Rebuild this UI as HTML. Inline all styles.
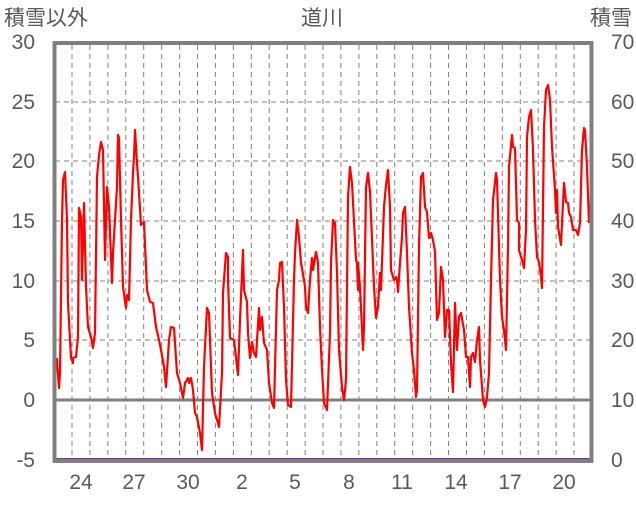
<!DOCTYPE html>
<html><head><meta charset="utf-8"><style>
body{margin:0;background:#fff;}
svg text{font-family:"Liberation Sans","Noto Sans CJK JP",sans-serif;fill:#595959;}
</style></head><body>
<svg width="636" height="501" viewBox="0 0 636 501" xmlns="http://www.w3.org/2000/svg">
<rect width="636" height="501" fill="#fff"/>
<g stroke="#7f7f7f" stroke-width="1" stroke-dasharray="5,4">
<line x1="55" y1="102" x2="591" y2="102"/>
<line x1="55" y1="161" x2="591" y2="161"/>
<line x1="55" y1="221" x2="591" y2="221"/>
<line x1="55" y1="281" x2="591" y2="281"/>
<line x1="55" y1="340" x2="591" y2="340"/>
</g>
<g id="v" stroke="#7f7f7f" stroke-width="1" stroke-dasharray="5,4"></g>
<line x1="55" y1="400" x2="591" y2="400" stroke="#7f7f7f" stroke-width="3"/>
<polyline fill="none" stroke="#ff0000" stroke-width="2.2" stroke-linejoin="round" points="57,358 57.5,368 59,388 60,373 62,220 63,180 65,172 67,220 68,303 71,358 73,363 73,358 76,357 78,337 79,208 81,217 82,280 84,203 86,287 88,327 91,337 93,348 95,333 97,177 99,155 101,142 103,150 105,260 107,187 109,207 112,283 113,253 117,187 118,135 119,138 121,220 123,287 126,308 127,295 129,300 131,220 133,173 134,157 135,130 137,163 138,177 141,225 144,222 147,290 150,302 153,303 156,327 159,340 161,350 164,367 166,387 169,340 171,327 174,328 177,373 180,383 183,398 185,383 188,378 189,383 191,378 193,390 195,413 197,417 200,433 202,450 204,367 207,308 209,313 212,393 215,413 219,427 222,373 223,293 226,253 228,257 228,280 230,338 234,340 238,375 240,320 243,250 244,290 247,302 248,333 250,358 252,342 254,353 256,357 259,308 260,330 262,317 264,343 267,350 269,383 272,403 274,408 277,290 279,280 280,263 282,262 284,307 286,380 288,405 291,407 294,280 295,253 297,220 299,237 301,263 304,280 305,287 306,307 308,313 310,280 312,258 313,270 316,252 318,263 320,327 322,370 324,403 327,410 330,333 331,263 333,220 335,223 337,273 339,350 342,387 344,400 346,380 348,197 350,167 352,183 356,260 357,263 358,290 358,263 360,287 363,350 364,327 366,187 368,173 370,192 374,287 376,318 378,307 380,273 381,290 384,207 386,185 388,170 390,207 391,270 394,280 396,277 397,280 398,292 400,263 402,237 403,213 405,207 407,253 409,307 412,353 414,370 416,397 417,390 419,247 421,177 423,173 425,207 427,212 429,238 431,233 433,240 435,252 437,320 439,313 441,267 443,280 445,337 447,310 449,310 451,363 453,392 455,303 457,350 459,317 461,313 464,330 466,357 468,357 470,387 471,357 473,353 475,362 477,340 479,327 480,360 483,400 485,407 487,397 489,373 491,280 493,200 496,173 497,180 500,280 502,317 504,330 506,350 508,247 509,167 512,135 513,147 515,148 517,220 519,223 519,250 522,260 524,268 526,230 527,137 529,117 531,110 533,150 535,220 537,257 539,262 541,277 542,288 544,127 546,90 548,85 550,100 552,147 555,190 556,213 557,190 558,227 561,245 563,203 564,183 566,202 568,203 569,213 571,217 573,230 576,230 578,235 580,223 582,150 584,128 585,130 587,167 589,223"/>
<line x1="55" y1="459" x2="591" y2="459" stroke="#7030a0" stroke-width="2"/>
<rect x="54.5" y="43" width="537" height="418" fill="none" stroke="#7f7f7f" stroke-width="4"/>
<g font-size="21" text-anchor="end">
<text x="35" y="49">30</text><text x="35" y="109">25</text><text x="35" y="168">20</text><text x="35" y="228">15</text><text x="35" y="288">10</text><text x="35" y="347">5</text><text x="35" y="407">0</text><text x="35" y="467">-5</text>
</g>
<g font-size="21" text-anchor="start">
<text x="611" y="49">70</text><text x="611" y="109">60</text><text x="611" y="168">50</text><text x="611" y="228">40</text><text x="611" y="288">30</text><text x="611" y="347">20</text><text x="611" y="407">10</text><text x="611" y="467">0</text>
</g>
<g font-size="21" text-anchor="middle">
<text x="81" y="489">24</text><text x="134" y="489">27</text><text x="188" y="489">30</text><text x="242" y="489">2</text><text x="295" y="489">5</text><text x="349" y="489">8</text><text x="402" y="489">11</text><text x="456" y="489">14</text><text x="510" y="489">17</text><text x="564" y="489">20</text>
</g>
<text x="4" y="25" font-size="21">積雪以外</text>
<text x="322" y="25" font-size="21" text-anchor="middle">道川</text>
<text x="632" y="25" font-size="21" text-anchor="end">積雪</text>
</svg>
<script>
var g=document.getElementById('v');
for(var k=0;k<=28;k++){var x=(72+k*17.93).toFixed(1);var l=document.createElementNS('http://www.w3.org/2000/svg','line');l.setAttribute('x1',x);l.setAttribute('x2',x);l.setAttribute('y1','45');l.setAttribute('y2','459');g.appendChild(l);}
</script>
</body></html>
